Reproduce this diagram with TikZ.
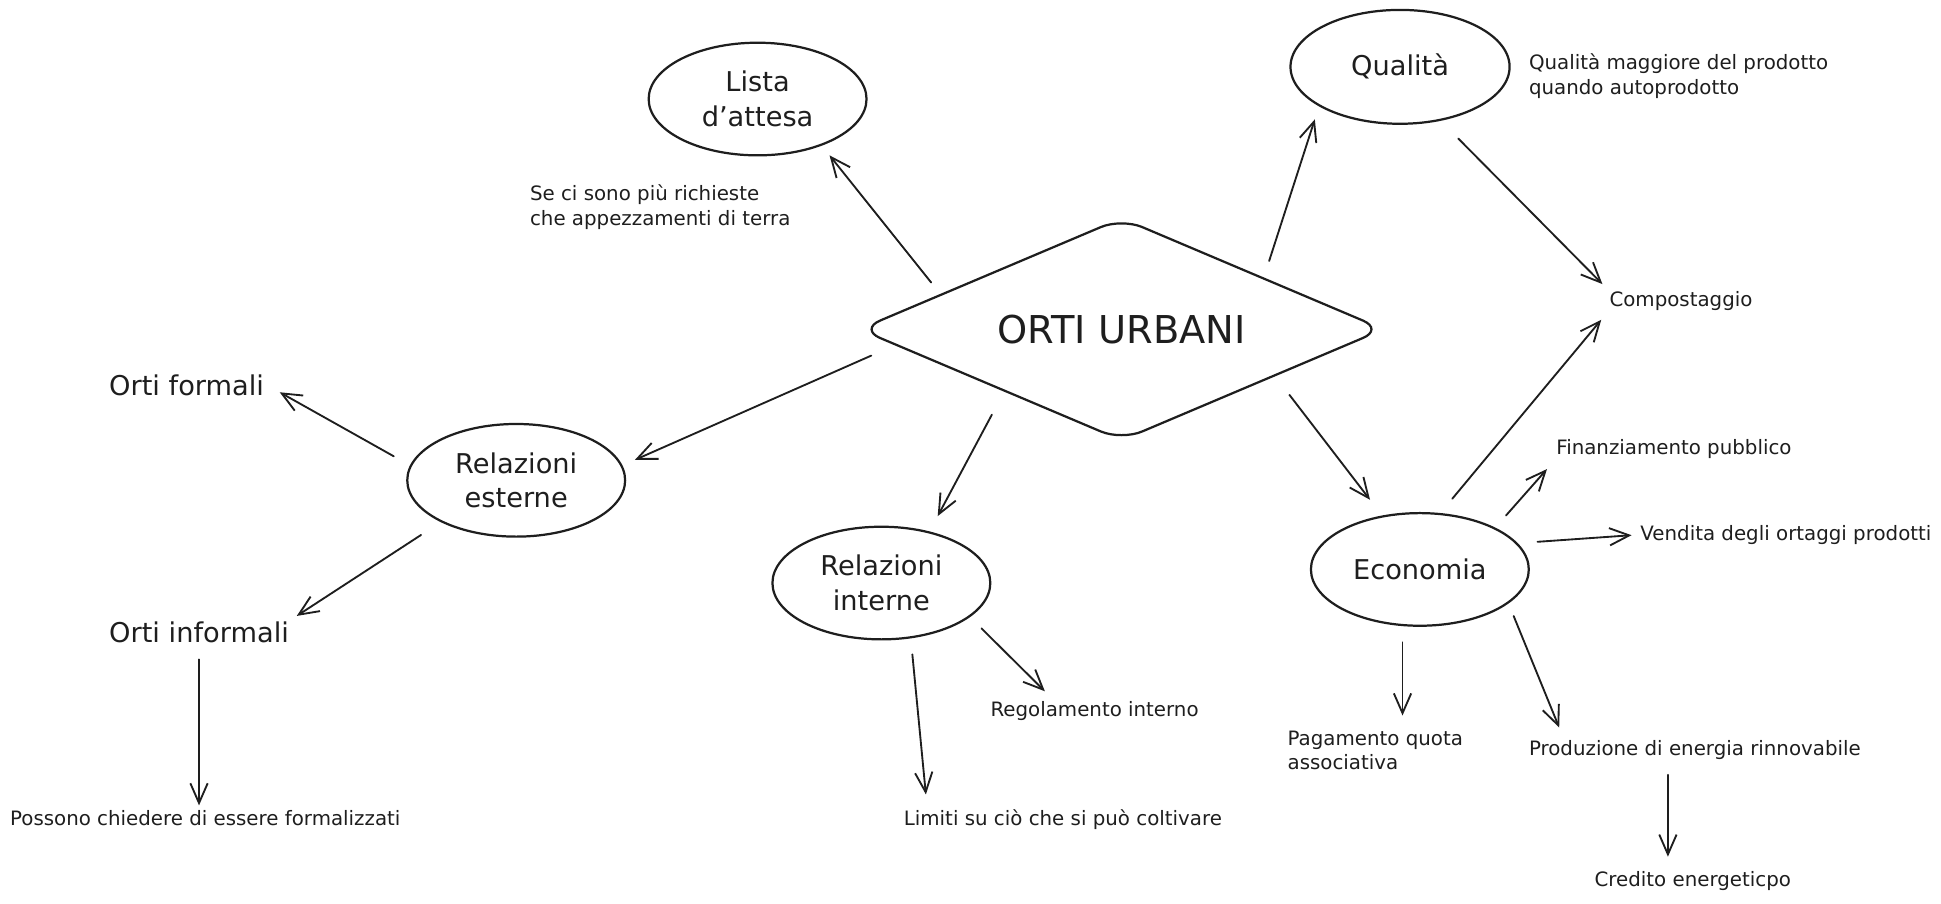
\documentclass[tikz,border=0pt]{standalone}
\usepackage{fontspec}
\setmainfont{DejaVu Sans}
\usetikzlibrary{shapes.geometric,arrows.meta,calc}
\definecolor{ink}{RGB}{30,30,30}
\begin{document}
\begin{tikzpicture}[x=1pt,y=-1pt,
  every node/.style={text=ink},
  bubble/.style={ellipse, draw=ink, line width=1.8pt, minimum width=176pt, minimum height=91pt, inner sep=0pt, align=center, font=\fontsize{22}{28}\selectfont},
  txtb/.style={anchor=west, inner sep=2pt, font=\fontsize{22}{28}\selectfont},
  txts/.style={anchor=west, inner sep=2pt, align=left, font=\fontsize{16}{20}\selectfont},
  arr/.style={draw=ink, line width=1.5pt, line cap=round, line join=round, -{Straight Barb[length=16pt,width=14pt]}}]
\useasboundingbox (0,0) rectangle (1568,730);

% central node
\node[diamond, aspect=2.4, draw=ink, line width=1.8pt, rounded corners=18pt, minimum width=424pt, minimum height=180pt, inner sep=0pt, font=\fontsize{31}{36}\selectfont] (dia) at (906,266) {ORTI URBANI};

% bubbles
\node[bubble] (lista) at (612,80) {Lista\\d'attesa};
\node[bubble, minimum width=177pt, minimum height=92pt] (qual) at (1131,54) {Qualità};
\node[bubble] (rest) at (417,388) {Relazioni\\esterne};
\node[bubble] (rint) at (712,471) {Relazioni\\interne};
\node[bubble] (eco) at (1147,460) {Economia};

% texts
\node[txts, anchor=north west] (note1) at (426,147) {Se ci sono più richieste\\che appezzamenti di terra};
\node[txts, anchor=north west] (note2) at (1233,41) {Qualità maggiore del prodotto\\quando autoprodotto};
\node[txts] (comp) at (1298,243) {Compostaggio};
\node[txtb] (of) at (86,311) {Orti formali};
\node[txtb] (oi) at (86,511) {Orti informali};
\node[txts] (poss) at (6,661) {Possono chiedere di essere formalizzati};
\node[txts] (reg) at (798,574) {Regolamento interno};
\node[txts] (lim) at (728,662) {Limiti su ciò che si può coltivare};
\node[txts] (fin) at (1255,363) {Finanziamento pubblico};
\node[txts] (vend) at (1323,432) {Vendita degli ortaggi prodotti};
\node[txts, anchor=north west] (pag) at (1038,588) {Pagamento quota\\associativa};
\node[txts] (prod) at (1233,606) {Produzione di energia rinnovabile};
\node[txts] (cred) at (1286,712) {Credito energeticpo};

% connectors
\draw[arr, shorten <=12pt, shorten >=10pt] (dia.169) -- (lista.-36);
\draw[arr, shorten <=14pt, shorten >=11pt] (dia.20) -- (qual.206);
\draw[arr, shorten <=20pt, shorten >=5pt] (qual.-53) -- (comp.north west);
\draw[arr, shorten <=15pt, shorten >=7pt] (eco.70) -- (comp.south west);
\draw[arr, shorten <=21pt, shorten >=11pt] (dia.184) -- (rest.8);
\draw[arr, shorten <=21pt, shorten >=14pt] (dia.208) -- (rint.47);
\draw[arr, shorten <=19pt, shorten >=16pt] (dia.-17) -- (eco.125);
\draw[arr, shorten <=15pt, shorten >=12pt] (rest.172) -- (of.east);
\draw[arr, shorten <=19pt, shorten >=5pt] (rest.209) -- (oi.north east);
\draw[arr, shorten <=11pt, shorten >=2pt] (oi.south) -- (oi.south |- poss.north);
\draw[arr, shorten <=13pt, shorten >=8pt] (rint.-21) -- ($(reg.north west)!0.3!(reg.north east)$);
\draw[arr, shorten <=13pt, shorten >=10pt] (rint.-62) -- ($(lim.north west)!0.08!(lim.north east)$);
\draw[arr, shorten <=13pt, shorten >=8pt] (eco.29) -- (fin.south west);
\draw[arr, shorten <=16pt, shorten >=5pt] (eco.15) -- (vend.west);
\draw[arr, shorten <=13pt, shorten >=10pt] (eco.-107) -- (eco.-107 |- pag.north);
\draw[arr, shorten <=11pt, shorten >=9pt] (eco.-21) -- ($(prod.north west)!0.11!(prod.north east)$);
\coordinate (ps) at ($(prod.south west)!0.42!(prod.south east)$);
\draw[arr, shorten <=10pt, shorten >=10pt] (ps) -- (ps |- cred.north);
\end{tikzpicture}
\end{document}
